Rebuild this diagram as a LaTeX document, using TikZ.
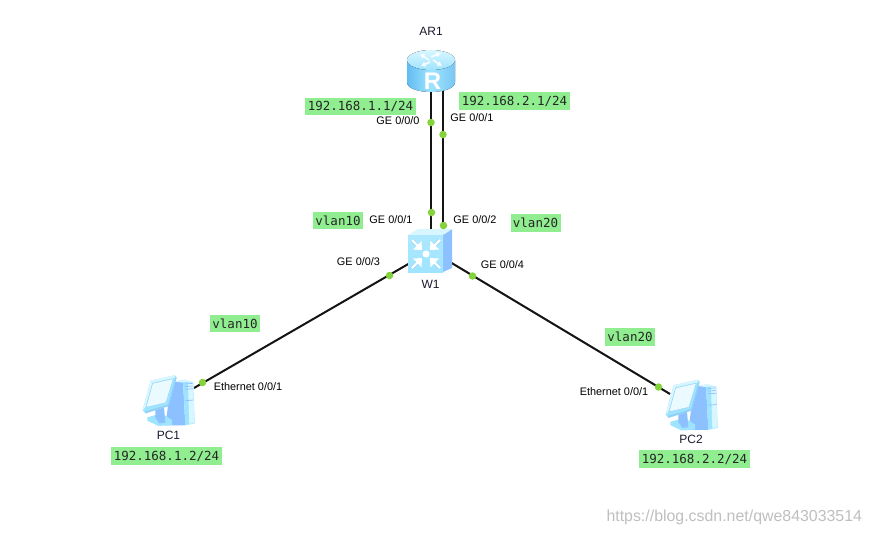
\documentclass[tikz,border=0pt]{standalone}
\usepackage{fontspec}
\usetikzlibrary{arrows.meta}
\setmainfont{Liberation Sans}
\newfontfamily\ipfont{DejaVu Sans Mono}
\definecolor{tagbg}{HTML}{90EE90}
\definecolor{dotc}{HTML}{84D23C}
\definecolor{iconlt}{HTML}{D8F6FF}
\definecolor{iconmd}{HTML}{9FE4FF}
\definecolor{icondk}{HTML}{62BCF2}
\definecolor{iconbl}{HTML}{8CC0FF}
\definecolor{nametxt}{HTML}{1A1A30}
\tikzset{
  every node/.style={inner sep=0pt,outer sep=0pt},
  tag/.style={fill=tagbg,minimum width=111pt,minimum height=17.5pt,font=\ipfont\fontsize{12.5}{14}\selectfont,text=black!85},
  vtag/.style={tag,minimum width=50pt},
  port/.style={font=\fontsize{10.9}{12}\selectfont,text=black},
  devname/.style={font=\fontsize{12}{14}\selectfont,text=nametxt},
  portdot/.style={circle,fill=dotc,minimum size=7.5pt},
  link/.style={draw=black!92,line width=2pt},
  pcicon/.pic={
    % tower left side and front
    \fill[iconbl] (100,36) -- (135,32) -- (142,166) -- (82,166) -- cycle;
    \fill[iconlt] (108,34) -- (140,28) -- (166,36) -- (135,38) -- cycle;
    \fill[iconmd] (135,36) -- (166,36) -- (170,160) -- (142,166) -- cycle;
    \fill[iconlt] (150,38) -- (166,38) -- (169,158) -- (154,162) -- cycle;
    \draw[iconbl,line width=.7pt] (140,42) -- (164,40) (140,50) -- (164,48) (141,58) -- (165,56) (142,92) -- (167,90);
    % stand
    \fill[iconmd] (28,142) -- (70,130) -- (102,150) -- (102,165) -- (62,168) -- (28,152) -- cycle;
    \fill[iconbl] (52,120) -- (78,112) -- (82,158) -- (64,160) -- (52,142) -- cycle;
    % monitor
    \fill[iconmd] (38,32) -- (110,16) -- (116,22) -- (92,108) -- (22,130) -- (14,120) -- cycle;
    \fill[iconlt] (38,32) -- (110,16) -- (110,24) -- (44,38) -- (22,112) -- (14,120) -- cycle;
    \fill[icondk!70!white] (22,124) -- (90,104) -- (112,24) -- (116,22) -- (92,108) -- (22,130) -- cycle;
    \fill[iconlt!55!white] (44,40) -- (106,26) -- (84,98) -- (24,112) -- cycle;
    \draw[icondk!70!white,line width=.4pt] (44,40) -- (106,26) -- (84,98) -- (24,112) -- cycle;
  },
}
\begin{document}
\begin{tikzpicture}[x=1pt,y=-1pt]
\useasboundingbox[fill=white] (0,0) rectangle (870,536);

% connection points
\coordinate (rA) at (431,88);
\coordinate (rB) at (443,88);
\coordinate (sA) at (431,236);
\coordinate (sB) at (443,236);
\coordinate (sC) at (410,263);
\coordinate (sD) at (450,262);
\coordinate (pA) at (194,388);
\coordinate (pB) at (670,394);

\draw[link] (rA) -- (sA);
\draw[link] (rB) -- (sB);
\draw[link] (sC) -- (pA);
\draw[link] (sD) -- (pB);

% router
\fill[left color=icondk,right color=icondk!85!white,middle color=iconmd]
  (407,60) -- (407,82) .. controls (407,95.3) and (455,95.3) .. (455,82) -- (455,60) -- cycle;
\fill[top color=iconlt,bottom color=iconmd] (431,60) ellipse[x radius=24,y radius=10];
\foreach \ax/\ay/\bx/\by in {429/60/420/54, 431/57/441/53, 433/60/442/66, 430/62/421/66}{
  \draw[white,line width=1.8pt,opacity=.85,-{Latex[length=4.5pt,width=6pt]}] (\ax,\ay) -- (\bx,\by);
}
\node[text=white,font=\bfseries\fontsize{24}{24}\selectfont] (ricon) at (432.5,81.5) {R};

% switch
\fill[iconbl] (443,235) -- (452,229) -- (452,268) -- (443,272) -- cycle;
\fill[iconlt] (408,235) -- (418,229) -- (452,229) -- (443,235) -- cycle;
\fill[top color=iconmd!85!white,bottom color=iconmd] (408,235) rectangle (443,272);
\foreach \sx/\sy in {-1/-1,1/-1,-1/1,1/1}{
  \begin{scope}[shift={(426,254)},xscale=\sx,yscale=\sy]
    \draw[icondk!70!white,line width=3.4pt] (14,14) -- (8,8);
    \draw[white,line width=2.2pt] (14,14) -- (6,6);
    \fill[white] (4,4) -- (13,4.5) -- (4.5,13) -- cycle;
  \end{scope}
}
\fill[white] (426,254) circle (3.6);

% PCs
\pic[scale=1/3] at (138,370) {pcicon};
\pic[scale=1/3] at (661,374.5) {pcicon};

% port dots
\node[portdot] (d1) at (431,122.5) {};
\node[portdot] (d2) at (443,134.5) {};
\node[portdot] (d3) at (431.5,212.5) {};
\node[portdot] (d4) at (443.5,225.5) {};
\node[portdot] (d5) at (389.5,275.5) {};
\node[portdot] (d6) at (472.5,276) {};
\node[portdot] (d7) at (202.5,382.5) {};
\node[portdot] (d8) at (658.5,387) {};

% names
\node[devname] (nar) at (431,31) {AR1};
\node[devname] (nsw) at (430.5,284.5) {W1};
\node[devname] (npa) at (168.5,435) {PC1};
\node[devname] (npb) at (691,439.5) {PC2};

% port labels
\node[port] (l1) at (398,121) {GE 0/0/0};
\node[port] (l2) at (472,118) {GE 0/0/1};
\node[port] (l3) at (391,220) {GE 0/0/1};
\node[port] (l4) at (475,220) {GE 0/0/2};
\node[port] (l5) at (358.5,262) {GE 0/0/3};
\node[port] (l6) at (502.5,265) {GE 0/0/4};
\node[port] (l7) at (248,386.5) {Ethernet 0/0/1};
\node[port] (l8) at (614,392) {Ethernet 0/0/1};

% tags
\node[tag] (t1) at (360.5,106.5) {192.168.1.1/24};
\node[tag] (t2) at (514.5,101) {192.168.2.1/24};
\node[vtag] (t3) at (338,220.5) {vlan10};
\node[vtag] (t4) at (535.5,223) {vlan20};
\node[vtag] (t5) at (235,323.5) {vlan10};
\node[vtag] (t6) at (630,337) {vlan20};
\node[tag] (t7) at (166.5,456) {192.168.1.2/24};
\node[tag] (t8) at (694.5,459) {192.168.2.2/24};

% watermark
\node[font=\fontsize{15.9}{18}\selectfont,text=black!25,anchor=east] (wm) at (862,517) {https://blog.csdn.net/qwe843033514};
\end{tikzpicture}
\end{document}
